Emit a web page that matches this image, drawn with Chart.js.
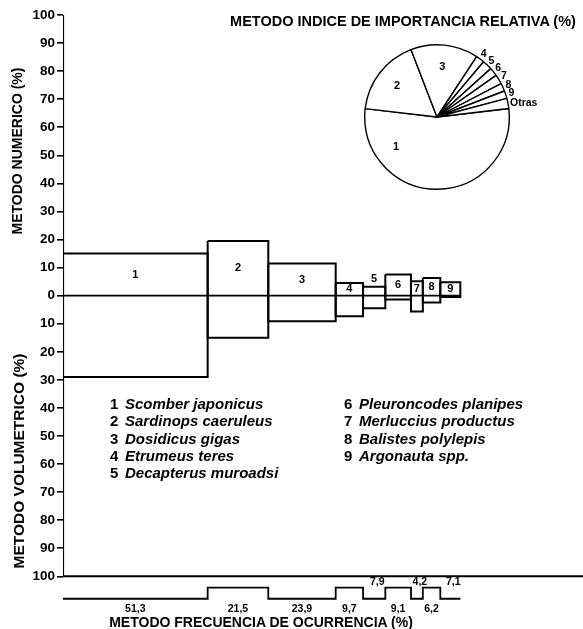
<!DOCTYPE html>
<html>
<head>
<meta charset="utf-8">
<script src="https://cdn.jsdelivr.net/npm/chart.js@4.4.1/dist/chart.umd.min.js"></script>
<style>
    html, body { margin: 0; padding: 0; background: #fff; }
    #wrap { position: relative; width: 583px; height: 629px; overflow: hidden; font-family: "Liberation Sans", Arial, sans-serif; color: #000; }
    canvas { position: absolute; }
    #mainChart { left: 0; top: 0; }
    #pieChart { left: 327px; top: 27px; }
    .t { position: absolute; font-weight: bold; white-space: nowrap; transform: translate(-50%, -50%); }
    .rot { transform: translate(-50%, -50%) rotate(-90deg); }
    .legend { position: absolute; font-weight: bold; font-size: 15px; line-height: 17.3px; }
    .legend .n { display: inline-block; width: 15px; font-style: normal; }
    .legend i { font-style: italic; }
</style>
</head>
<body>
<div id="wrap">
    <canvas id="mainChart" width="583" height="629"></canvas>
    <canvas id="pieChart" width="220" height="180"></canvas>
    <div class="t" style="left:403px; top:21px; font-size:14.5px;">METODO INDICE DE IMPORTANCIA RELATIVA (%)</div>
    <div class="t rot" style="left:17px; top:151px; font-size:14px;">METODO NUMERICO (%)</div>
    <div class="t rot" style="left:19px; top:461px; font-size:15.5px;">METODO VOLUMETRICO (%)</div>
    <div class="t" style="left:261px; top:622px; font-size:14px;">METODO FRECUENCIA DE OCURRENCIA (%)</div>
    <div class="legend" id="legLeft" style="left:110px; top:395px;"></div>
    <div class="legend" id="legRight" style="left:344px; top:395px;"></div>
</div>
<script>
const species = [
    "Scomber japonicus", "Sardinops caeruleus", "Dosidicus gigas",
    "Etrumeus teres", "Decapterus muroadsi", "Pleuroncodes planipes",
    "Merluccius productus", "Balistes polylepis", "Argonauta spp."
];
const numeric    = [15, 19.5, 11.5, 4.5, 3.2, 7.5, 5.1, 6.3, 4.8];
const volumetric = [29, 15, 9.1, 7.3, 4.5, 1.4, 5.6, 2.4, 0.5];
const frequency  = [51.3, 21.5, 23.9, 9.7, 7.9, 9.1, 4.2, 6.2, 7.1];
const iriLabels  = ["1", "2", "3", "4", "5", "6", "7", "8", "9", "Otras"];
const iriValues  = [53.7, 17.3, 15.1, 1.9, 2.2, 1.9, 2.1, 1.8, 1.7, 2.3];
const yTicks = [100, 90, 80, 70, 60, 50, 40, 30, 20, 10, 0, -10, -20, -30, -40, -50, -60, -70, -80, -90, -100];

const FONT = "'Liberation Sans', Arial, sans-serif";
const X_MAX = 184.4;
const STEP_LOW = -108, STEP_HIGH = -104;

// legend text
const row = (s, i) => `<div><span class="n">${i + 1}</span><i>${s}</i></div>`;
document.getElementById("legLeft").innerHTML = species.slice(0, 5).map(row).join("");
document.getElementById("legRight").innerHTML = species.slice(5).map((s, i) => row(s, i + 5)).join("");

// cumulative frequency gives the x edges of each box
const edges = frequency.reduce((a, f) => { a.push(a[a.length - 1] + f); return a; }, [0]);
const total = edges[edges.length - 1];

const line = (points, width) => ({
    data: points, showLine: true, borderColor: "#000", borderWidth: width,
    pointRadius: 0, fill: false, tension: 0
});

const boxSets = numeric.map((n, i) => line([
    { x: edges[i], y: n }, { x: edges[i + 1], y: n },
    { x: edges[i + 1], y: -volumetric[i] }, { x: edges[i], y: -volumetric[i] },
    { x: edges[i], y: n }
], 2));

const stepPoints = [];
frequency.forEach((f, i) => {
    const lvl = i % 2 === 0 ? STEP_LOW : STEP_HIGH;
    stepPoints.push({ x: edges[i], y: lvl }, { x: edges[i + 1], y: lvl });
});

const labelPlugin = {
    id: "boxLabels",
    afterDatasetsDraw(chart) {
        const { ctx, scales: { x, y } } = chart;
        ctx.save();
        ctx.fillStyle = "#000";
        ctx.textAlign = "center";
        ctx.textBaseline = "middle";
        ctx.font = `bold 11px ${FONT}`;
        numeric.forEach((n, i) => {
            const cx = x.getPixelForValue((edges[i] + edges[i + 1]) / 2);
            const top = y.getPixelForValue(n), zero = y.getPixelForValue(0);
            const cy = zero - top < 11 ? top - 8 : (top + zero) / 2;
            ctx.fillText(String(i + 1), cx, cy);
        });
        ctx.font = `bold 10.5px ${FONT}`;
        frequency.forEach((f, i) => {
            const cx = x.getPixelForValue((edges[i] + edges[i + 1]) / 2);
            const low = y.getPixelForValue(STEP_LOW);
            const above = i % 2 === 0 && f < 10;
            ctx.fillText(String(f).replace(".", ","), cx + (above ? 3 : 0), above ? low - 17 : low + 10);
        });
        ctx.restore();
    }
};

new Chart(document.getElementById("mainChart"), {
    type: "scatter",
    data: {
        datasets: [
            line([{ x: 0, y: 100 }, { x: 0, y: -100 }], 2.2),
            line([{ x: 0, y: 0 }, { x: total, y: 0 }], 1.6),
            line([{ x: 0, y: -100 }, { x: X_MAX, y: -100 }], 2),
            ...boxSets,
            line(stepPoints, 1.8)
        ]
    },
    options: {
        responsive: false,
        animation: false,
        layout: { padding: { top: 15, bottom: 19, left: 0, right: 0 } },
        plugins: { legend: { display: false }, tooltip: { enabled: false } },
        scales: {
            x: { type: "linear", min: 0, max: X_MAX, display: false },
            y: {
                type: "linear", min: -112, max: 100,
                afterBuildTicks: scale => { scale.ticks = yTicks.map(v => ({ value: v })); },
                afterFit: scale => { scale.width = 63; },
                border: { display: false },
                grid: { drawOnChartArea: false, drawTicks: true, tickLength: 6, color: "#000", lineWidth: 1.6 },
                ticks: {
                    color: "#000", padding: 2, autoSkip: false,
                    font: { family: FONT, size: 13.5, weight: "bold" },
                    callback: v => Math.abs(v)
                }
            }
        }
    },
    plugins: [labelPlugin]
});

const pieLabelPlugin = {
    id: "pieLabels",
    afterDatasetsDraw(chart) {
        const { ctx } = chart;
        const arcs = chart.getDatasetMeta(0).data;
        ctx.save();
        ctx.fillStyle = "#000";
        ctx.textBaseline = "middle";
        arcs.forEach((arc, i) => {
            const R = arc.outerRadius;
            let frac = 0.5, r = R + 6, align = "center", size = 10.5;
            if (i < 3) { frac = i === 0 ? 0.78 : 0.5; r = 0.7 * R; size = 11; }
            if (iriLabels[i] === "Otras") { r = R + 2; align = "left"; }
            const a = arc.startAngle + frac * (arc.endAngle - arc.startAngle);
            ctx.textAlign = align;
            ctx.font = `bold ${size}px ${FONT}`;
            ctx.fillText(iriLabels[i], arc.x + Math.cos(a) * r, arc.y + Math.sin(a) * r);
        });
        ctx.restore();
    }
};

new Chart(document.getElementById("pieChart"), {
    type: "pie",
    data: {
        labels: iriLabels,
        datasets: [{
            data: iriValues,
            backgroundColor: "#fff",
            borderColor: "#000",
            borderWidth: 1.4
        }]
    },
    options: {
        responsive: false,
        animation: false,
        rotation: 83.3,
        layout: { padding: { left: 37, right: 37, top: 17, bottom: 17 } },
        plugins: { legend: { display: false }, tooltip: { enabled: false } }
    },
    plugins: [pieLabelPlugin]
});
</script>
</body>
</html>
